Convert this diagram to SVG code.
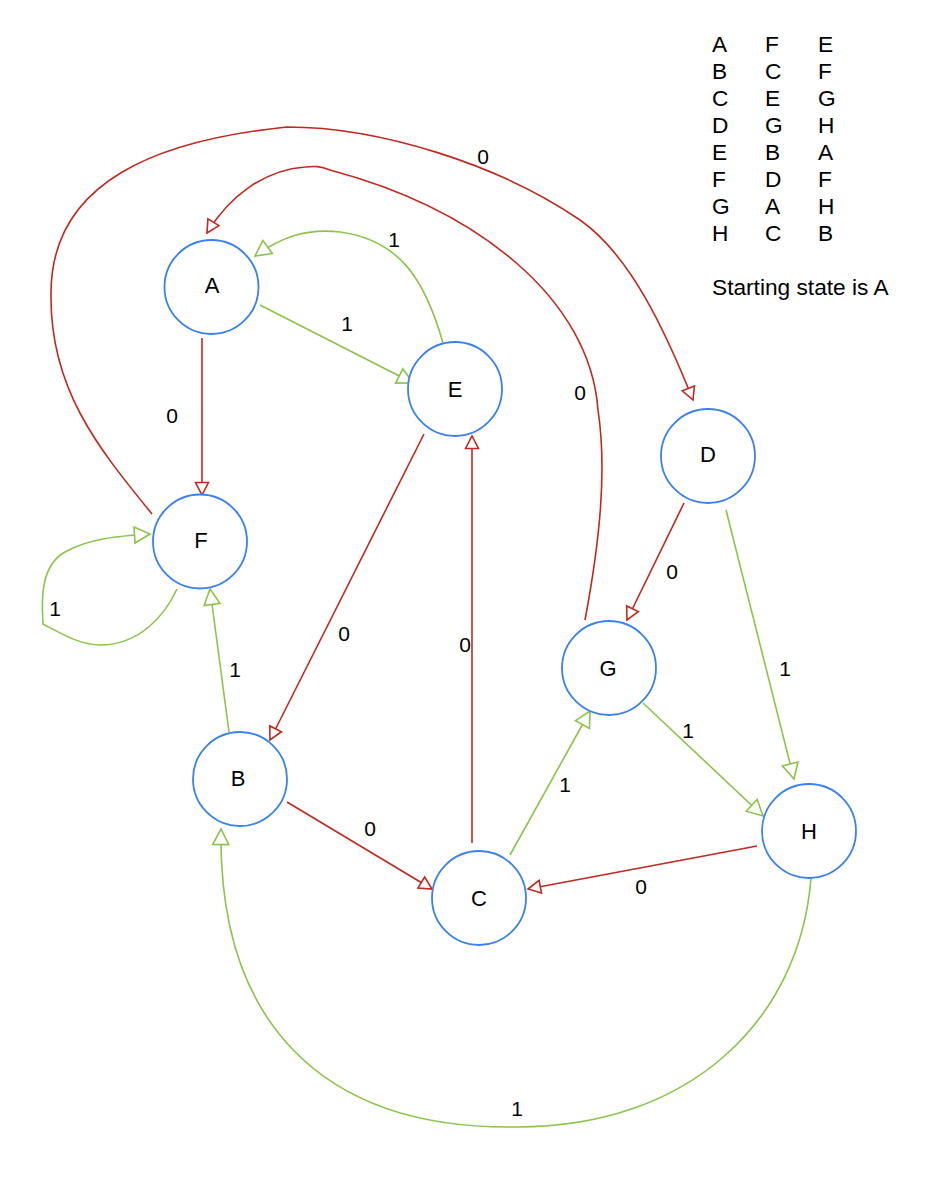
<svg xmlns="http://www.w3.org/2000/svg" width="950" height="1197" viewBox="0 0 950 1197">
<style>
.node{fill:#fff;stroke:#3a80f0;stroke-width:1.8}
.nl{font-family:"Liberation Sans",Arial,sans-serif;font-size:22px;fill:#000;text-anchor:middle}
.el{font-family:"Liberation Sans",Arial,sans-serif;font-size:21px;fill:#000;text-anchor:middle}
.tb{font-family:"Liberation Sans",Arial,sans-serif;font-size:22.7px;fill:#000}
.r{fill:none;stroke:#c1281f;stroke-width:1.6;marker-end:url(#ar)}
.g{fill:none;stroke:#8cc34a;stroke-width:1.6;marker-end:url(#ag)}
</style>
<defs>
<marker id="ar" markerUnits="userSpaceOnUse" markerWidth="16" markerHeight="16" viewBox="0 0 16 16" refX="14" refY="8" orient="auto">
<path d="M1.5,1.5 L14,8 L1.5,14.5 Z" fill="#fff" stroke="#c1281f" stroke-width="1.6"/>
</marker>
<marker id="ag" markerUnits="userSpaceOnUse" markerWidth="20" markerHeight="20" viewBox="0 0 20 20" refX="17" refY="10" orient="auto">
<path d="M1.5,2 L17,10 L1.5,18 Z" fill="#fff" stroke="#8cc34a" stroke-width="1.6"/>
</marker>
</defs>
<g id="connectors">
<path class="r" d="M152,514 C100,450 50,390 51,295 C50,180 160,140 287,127 C380,127 500,165 580,220 C630,255 665,330 693,400"/>
<path class="r" d="M585,620 C600,540 607,470 598,410 C590,300 480,210 330,170 C320,166 315,166 305,167 C265,170 230,195 207,233"/>
<path class="g" d="M443,343 C425,280 400,240 340,232 C305,228 280,238 255,256"/>
<path class="g" d="M177,589 C165,615 140,645 100,645 C80,645 60,633 43,624 C41,595 42,565 65,552 C90,538 120,536 150,534"/>
<path class="g" d="M811,878 C800,1020 690,1127 517,1127 C320,1130 218,1020 221,829"/>
<path class="g" d="M260,305 L413,383"/>
<path class="r" d="M202,338 L202,495"/>
<path class="g" d="M229,732 L210,589"/>
<path class="r" d="M424,434 L270,740"/>
<path class="r" d="M472,843 L472,436"/>
<path class="r" d="M684,503 L627,620"/>
<path class="g" d="M726,510 L794,779"/>
<path class="g" d="M643,703 L763,816"/>
<path class="g" d="M510,855 L590,711"/>
<path class="r" d="M287,802 L432,889"/>
<path class="r" d="M757,846 L528,889"/>
<text class="el" x="347" y="331">1</text>
<text class="el" x="394" y="247">1</text>
<text class="el" x="483" y="164">0</text>
<text class="el" x="580" y="400">0</text>
<text class="el" x="172" y="423">0</text>
<text class="el" x="55" y="616">1</text>
<text class="el" x="235" y="677">1</text>
<text class="el" x="344" y="641">0</text>
<text class="el" x="465" y="652">0</text>
<text class="el" x="672" y="579">0</text>
<text class="el" x="785" y="676">1</text>
<text class="el" x="688" y="738">1</text>
<text class="el" x="565" y="792">1</text>
<text class="el" x="370" y="836">0</text>
<text class="el" x="641" y="894">0</text>
<text class="el" x="517" y="1116">1</text>
</g>
<g id="node-A"><circle class="node" cx="211.5" cy="287" r="47"/><text class="nl" x="212" y="293">A</text></g>
<g id="node-E"><circle class="node" cx="455" cy="389" r="47"/><text class="nl" x="455" y="397">E</text></g>
<g id="node-F"><circle class="node" cx="200" cy="541.5" r="47"/><text class="nl" x="201" y="548">F</text></g>
<g id="node-D"><circle class="node" cx="708" cy="456" r="47"/><text class="nl" x="708" y="462">D</text></g>
<g id="node-G"><circle class="node" cx="609" cy="668" r="47"/><text class="nl" x="608" y="676">G</text></g>
<g id="node-B"><circle class="node" cx="240" cy="779" r="47"/><text class="nl" x="238" y="786">B</text></g>
<g id="node-C"><circle class="node" cx="479" cy="898" r="47"/><text class="nl" x="479" y="906">C</text></g>
<g id="node-H"><circle class="node" cx="809" cy="831" r="47"/><text class="nl" x="809" y="839">H</text></g>
<g id="table">
<text class="tb" x="712" y="52">A</text><text class="tb" x="765" y="52">F</text><text class="tb" x="818" y="52">E</text>
<text class="tb" x="712" y="79">B</text><text class="tb" x="765" y="79">C</text><text class="tb" x="818" y="79">F</text>
<text class="tb" x="712" y="106">C</text><text class="tb" x="765" y="106">E</text><text class="tb" x="818" y="106">G</text>
<text class="tb" x="712" y="133">D</text><text class="tb" x="765" y="133">G</text><text class="tb" x="818" y="133">H</text>
<text class="tb" x="712" y="160">E</text><text class="tb" x="765" y="160">B</text><text class="tb" x="818" y="160">A</text>
<text class="tb" x="712" y="187">F</text><text class="tb" x="765" y="187">D</text><text class="tb" x="818" y="187">F</text>
<text class="tb" x="712" y="214">G</text><text class="tb" x="765" y="214">A</text><text class="tb" x="818" y="214">H</text>
<text class="tb" x="712" y="241">H</text><text class="tb" x="765" y="241">C</text><text class="tb" x="818" y="241">B</text>
<text class="tb" x="712" y="295">Starting state is A</text>
</g>
</svg>
